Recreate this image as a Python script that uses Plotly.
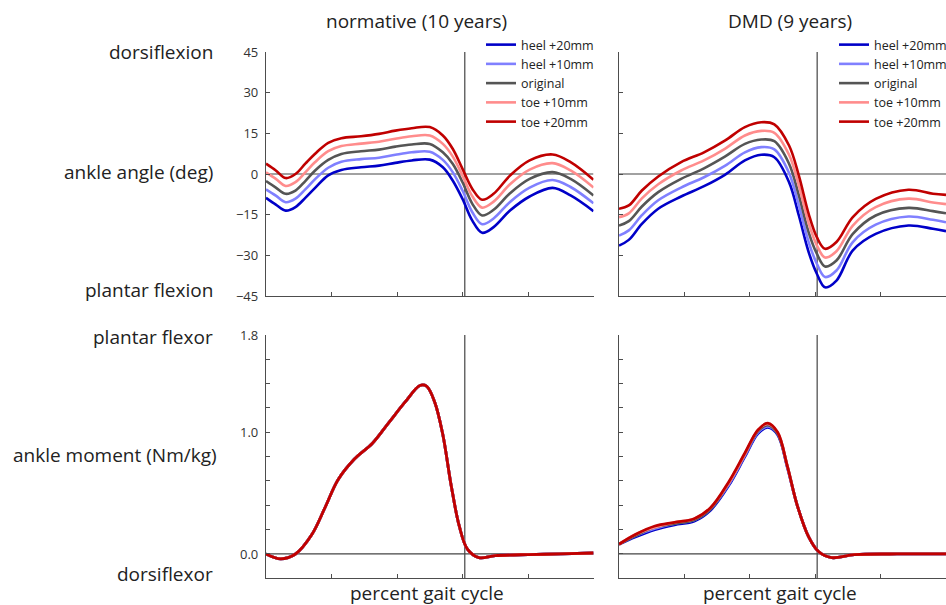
import plotly.graph_objects as go

# ---------------- data ----------------
series_names = ["heel +20mm", "heel +10mm", "original", "toe +10mm", "toe +20mm"]
series_colors = ["#0000C8", "#8080FF", "#555555", "#FF8C8C", "#C00000"]

# normative (10 years) ankle angle (deg)
norm_angle_x = [0, 3, 6, 9, 12, 15, 19, 23, 29, 34.5, 39.5, 44.5, 50, 54, 57, 60, 63, 66, 69.5, 74.5, 80.5, 87.5, 93, 100]
norm_heel20 = [-8.8, -11.3, -13.5, -12.2, -8.8, -5.1, -0.5, 1.5, 2.5, 3.1, 4.1, 5.0, 5.3, 2.5, -2.4, -9.2, -17.2, -21.7, -19.6, -13.5, -8.3, -5.1, -7.9, -13.7]
norm_heel10 = [-5.7, -8.0, -10.4, -9.1, -5.7, -1.9, 2.3, 4.5, 5.5, 6.0, 7.1, 8.0, 8.2, 5.2, 0.7, -6.1, -14.1, -18.5, -16.4, -10.3, -5.0, -2.2, -4.8, -10.8]
norm_orig = [-2.6, -5.0, -7.3, -6.1, -2.6, 1.3, 5.2, 7.4, 8.4, 9.0, 10.1, 10.9, 11.1, 8.0, 3.8, -3.0, -11.0, -15.3, -13.2, -7.1, -1.8, 0.7, -1.8, -7.9]
norm_toe10 = [0.6, -1.8, -4.4, -3.0, 0.6, 4.4, 8.4, 10.3, 11.2, 11.9, 13.0, 13.9, 14.2, 11.1, 6.5, -0.6, -8.2, -12.4, -10.2, -3.8, 1.6, 4.0, 1.3, -5.0]
norm_toe20 = [3.8, 1.3, -1.5, 0.0, 3.8, 7.5, 11.5, 13.2, 13.9, 14.8, 16.0, 16.9, 17.3, 14.2, 9.3, 1.9, -5.5, -9.5, -7.3, -0.6, 5.0, 7.2, 4.4, -2.1]

# DMD (9 years) ankle angle (deg)
dmd_angle_x = [0, 3, 7, 12, 19, 26, 32.5, 38.5, 43.5, 47.5, 52, 55, 58, 60.5, 63, 66.5, 71.5, 78.5, 88.5, 96, 100]
dmd_heel20 = [-26.4, -24.3, -18.4, -12.8, -8.3, -4.5, -0.2, 5.0, 7.1, 6.2, -3.0, -15.3, -28.8, -36.8, -41.8, -39.3, -28.2, -22.1, -19.0, -20.2, -21.1]
dmd_heel10 = [-22.7, -20.8, -15.2, -9.7, -5.0, -1.2, 3.1, 8.0, 9.9, 9.1, 0.4, -11.6, -25.1, -33.1, -38.0, -35.6, -25.1, -18.7, -15.7, -16.9, -17.8]
dmd_orig = [-19.0, -17.4, -12.0, -6.7, -1.8, 2.1, 6.5, 11.1, 12.7, 12.1, 3.8, -7.9, -21.5, -29.4, -34.1, -31.9, -22.1, -15.3, -12.5, -13.7, -14.5]
dmd_toe10 = [-15.9, -14.5, -9.0, -3.8, 1.3, 5.0, 9.4, 14.2, 15.9, 15.2, 7.1, -4.2, -18.1, -26.3, -30.8, -28.5, -19.0, -12.2, -9.1, -10.5, -11.1]
dmd_toe20 = [-12.8, -11.6, -6.1, -0.9, 4.4, 8.0, 12.4, 17.3, 19.1, 18.3, 10.5, -0.6, -14.7, -23.3, -27.6, -25.1, -15.9, -9.2, -5.8, -7.3, -7.7]

# normative ankle moment (Nm/kg) - all five conditions overlap
norm_moment_x = [0, 4.5, 9, 14, 18, 22, 27, 32.5, 37.5, 42.5, 47, 49, 51.5, 54, 56.5, 59, 61.5, 65, 70, 80, 90, 100]
norm_moment = [0.0, -0.04, 0.0, 0.16, 0.38, 0.61, 0.78, 0.91, 1.08, 1.25, 1.385, 1.38, 1.25, 0.98, 0.57, 0.23, 0.04, -0.03, -0.014, -0.005, 0.0, 0.008]

# DMD ankle moment (Nm/kg)
dmd_moment_x = [0, 5, 11, 17, 23, 28, 33.5, 38.5, 42.5, 45.5, 48.5, 51.5, 54.5, 58, 61, 65, 72, 85, 100]
dmd_m_heel20 = [0.08, 0.14, 0.20, 0.24, 0.27, 0.36, 0.56, 0.80, 0.99, 1.04, 0.98, 0.71, 0.40, 0.14, 0.02, -0.03, -0.005, 0.0, 0.0]
dmd_m_heel10 = [0.08, 0.15, 0.21, 0.25, 0.28, 0.37, 0.57, 0.81, 1.00, 1.05, 0.99, 0.71, 0.40, 0.14, 0.02, -0.03, -0.005, 0.0, 0.0]
dmd_m_orig = [0.08, 0.15, 0.22, 0.25, 0.28, 0.37, 0.58, 0.82, 1.01, 1.06, 0.99, 0.72, 0.40, 0.14, 0.02, -0.03, -0.005, 0.0, 0.0]
dmd_m_toe10 = [0.08, 0.16, 0.22, 0.26, 0.29, 0.38, 0.58, 0.82, 1.02, 1.07, 1.00, 0.72, 0.40, 0.14, 0.02, -0.03, -0.005, 0.0, 0.0]
dmd_m_toe20 = [0.08, 0.16, 0.23, 0.26, 0.29, 0.38, 0.59, 0.83, 1.02, 1.075, 1.00, 0.72, 0.40, 0.14, 0.02, -0.03, -0.005, 0.0, 0.0]

toe_off_norm = 60.7
toe_off_dmd = 60.6

angle_ticks = [-45, -30, -15, 0, 15, 30, 45]
moment_ticks = [-0.2, 0.0, 0.2, 0.4, 0.6, 0.8, 1.0, 1.2, 1.4, 1.6, 1.8]
moment_ticktext = ["", "0.0", "", "", "", "", "1.0", "", "", "", "1.8"]
x_ticks = [0, 20, 40, 60, 80, 100]

# ---------------- figure ----------------
W, H = 946, 605
FONT = "Open Sans"
AX = "#4d4d4d"

fig = go.Figure()

norm_angles = [norm_heel20, norm_heel10, norm_orig, norm_toe10, norm_toe20]
dmd_angles = [dmd_heel20, dmd_heel10, dmd_orig, dmd_toe10, dmd_toe20]
dmd_moments = [dmd_m_heel20, dmd_m_heel10, dmd_m_orig, dmd_m_toe10, dmd_m_toe20]

for name, col, ys in zip(series_names, series_colors, norm_angles):
    fig.add_trace(go.Scatter(x=norm_angle_x, y=ys, mode="lines", name=name,
                             line=dict(color=col, width=2.6, shape="spline", smoothing=1.0),
                             xaxis="x", yaxis="y", legend="legend"))
for name, col, ys in zip(series_names, series_colors, dmd_angles):
    fig.add_trace(go.Scatter(x=dmd_angle_x, y=ys, mode="lines", name=name,
                             line=dict(color=col, width=2.6, shape="spline", smoothing=1.0),
                             xaxis="x2", yaxis="y2", legend="legend2"))
for name, col in zip(series_names, series_colors):
    fig.add_trace(go.Scatter(x=norm_moment_x, y=norm_moment, mode="lines", name=name,
                             line=dict(color=col, width=2.8, shape="spline", smoothing=1.0),
                             xaxis="x3", yaxis="y3", showlegend=False))
for name, col, ys in zip(series_names, series_colors, dmd_moments):
    fig.add_trace(go.Scatter(x=dmd_moment_x, y=ys, mode="lines", name=name,
                             line=dict(color=col, width=2.8, shape="spline", smoothing=1.0),
                             xaxis="x4", yaxis="y4", showlegend=False))

def px_x(p):
    return p / W

def px_y(p):
    return 1 - p / H

xl = [px_x(266), px_x(593.5)]
xr = [px_x(619), 1.0]
yt = [px_y(296), px_y(52)]
yb = [px_y(578.3), px_y(335)]

xaxis_common = dict(range=[0, 100], tickvals=x_ticks, showticklabels=False, ticks="inside",
                    ticklen=4, tickcolor=AX, showline=True, linecolor=AX, linewidth=1.3,
                    showgrid=False, zeroline=False, fixedrange=True)
yaxis_common = dict(ticks="inside", ticklen=4, tickcolor=AX, showline=True, linecolor=AX,
                    linewidth=1.3, showgrid=False, zeroline=False, ticklabelstandoff=4,
                    tickfont=dict(family=FONT, size=13, color="#333333"))

legend_common = dict(xanchor="left", yanchor="top", bgcolor="rgba(0,0,0,0)", borderwidth=0,
                     itemwidth=30, font=dict(family=FONT, size=12.5, color="#222222"),
                     tracegroupgap=0)

fig.update_layout(
    width=W, height=H,
    margin=dict(l=0, r=0, t=0, b=0, autoexpand=False),
    paper_bgcolor="white", plot_bgcolor="white",
    font=dict(family=FONT, color="#222222"),
    xaxis=dict(domain=xl, anchor="y", **xaxis_common),
    xaxis2=dict(domain=xr, anchor="y2", **xaxis_common),
    xaxis3=dict(domain=xl, anchor="y3", **xaxis_common),
    xaxis4=dict(domain=xr, anchor="y4", **xaxis_common),
    yaxis=dict(domain=yt, anchor="x", range=[-45, 45], tickvals=angle_ticks, **yaxis_common),
    yaxis2=dict(domain=yt, anchor="x2", range=[-45, 45], tickvals=angle_ticks,
                showticklabels=False, **yaxis_common),
    yaxis3=dict(domain=yb, anchor="x3", range=[-0.2, 1.8], tickvals=moment_ticks,
                ticktext=moment_ticktext, **yaxis_common),
    yaxis4=dict(domain=yb, anchor="x4", range=[-0.2, 1.8], tickvals=moment_ticks,
                showticklabels=False, **yaxis_common),
    legend=dict(x=px_x(481), y=px_y(30), **legend_common),
    legend2=dict(x=px_x(834), y=px_y(30), **legend_common),
    showlegend=True,
)

# reference lines: zero line and toe-off line in each panel
shapes = []
for xa, ya, toe in [("x", "y", toe_off_norm), ("x2", "y2", toe_off_dmd),
                    ("x3", "y3", toe_off_norm), ("x4", "y4", toe_off_dmd)]:
    shapes.append(dict(type="line", xref=xa, yref=ya, x0=0, x1=100, y0=0, y1=0,
                       line=dict(color="#444444", width=1.2), layer="below"))
    shapes.append(dict(type="line", xref=xa, yref=ya + " domain", x0=toe, x1=toe, y0=0, y1=1,
                       line=dict(color="#444444", width=1.2), layer="below"))
fig.update_layout(shapes=shapes)

ann = []
def label(text, xr_px, y_px, anchor="right", size=19):
    ann.append(dict(text=text, x=px_x(xr_px), y=px_y(y_px), xref="paper", yref="paper",
                    xanchor=anchor, yanchor="middle", showarrow=False,
                    font=dict(family=FONT, size=size, color="#222222")))

label("dorsiflexion", 215, 52)
label("ankle angle (deg)", 215, 172)
label("plantar flexion", 215, 290)
label("plantar flexor", 215, 337)
label("ankle moment (Nm/kg)", 219, 455)
label("dorsiflexor", 215, 574)
label("normative (10 years)", 416, 21, anchor="center")
label("DMD (9 years)", 790, 21, anchor="center")
label("percent gait cycle", 427, 593, anchor="center")
label("percent gait cycle", 780, 593, anchor="center")
fig.update_layout(annotations=ann)

fig.write_html("out.html")
